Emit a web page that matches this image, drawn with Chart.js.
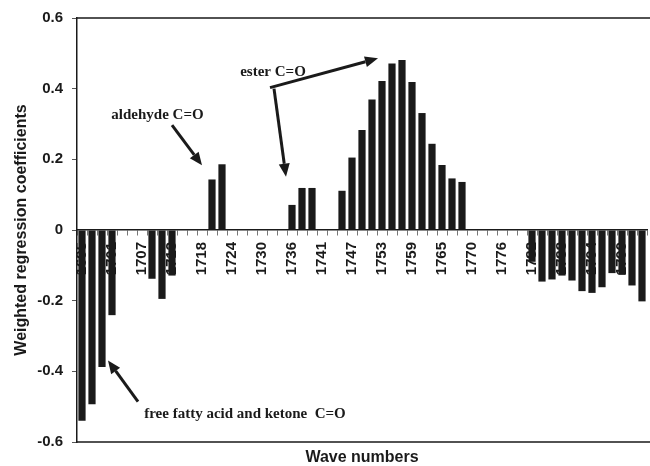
<!DOCTYPE html>
<html>
<head>
<meta charset="utf-8">
<title>Weighted regression coefficients</title>
<script src="https://cdn.jsdelivr.net/npm/chart.js@4.4.1/dist/chart.umd.min.js"></script>
<style>
  html, body { margin: 0; padding: 0; background: #fff; }
  #wrap { width: 650px; height: 466px; }
</style>
</head>
<body>
<div id="wrap"><canvas id="coef-chart" width="650" height="466"></canvas></div>
<script>
// wave numbers (cm-1), one per bar slot; only every third one is labelled
const waveNumbers = [
    1695, 1697, 1699, 1701, 1703, 1705, 1707, 1709, 1711, 1713,
    1714, 1716, 1718, 1720, 1722, 1724, 1726, 1728, 1730, 1732,
    1734, 1736, 1738, 1740, 1741, 1743, 1745, 1747, 1749, 1751,
    1753, 1755, 1757, 1759, 1761, 1763, 1765, 1767, 1768, 1770,
    1772, 1774, 1776, 1778, 1780, 1782, 1784, 1786, 1788, 1790,
    1792, 1794, 1795, 1797, 1799, 1801, 1803
];
const coefficients = [
    -0.540, -0.493, -0.388, -0.241, 0, 0, 0, -0.138, -0.195, -0.129,
    0, 0, 0, 0.143, 0.186, 0, 0, 0, 0, 0,
    0, 0.071, 0.119, 0.119, 0, 0, 0.111, 0.205, 0.283, 0.369,
    0.422, 0.471, 0.481, 0.419, 0.331, 0.244, 0.184, 0.146, 0.136, 0,
    0, 0, 0, 0, 0, -0.090, -0.146, -0.140, -0.129, -0.143,
    -0.173, -0.178, -0.162, -0.122, -0.127, -0.157, -0.202
];
const yTicks = [0.6, 0.4, 0.2, 0, -0.2, -0.4, -0.6];
const labelEvery = 3;

// annotations, in data units (bar index, coefficient)
const noteTexts = ['aldehyde C=O', 'ester C=O', 'free fatty acid and ketone  C=O'];
const noteAnchors = [[7.55, 0.326], [19.1, 0.446], [16.3, -0.52]];
const arrowStarts = [[9.0, 0.297], [18.8, 0.403], [19.2, 0.400], [5.6, -0.486]];
const arrowTips = [[12.0, 0.183], [29.6, 0.486], [20.4, 0.151], [2.6, -0.369]];

const sansFont = '"Liberation Sans", Arial, sans-serif';
const serifFont = '"Liberation Serif", "Times New Roman", serif';
const ink = '#1a1a1a';

function drawArrow(ctx, x0, y0, x1, y1) {
    const headLen = 13;
    const headHalf = 5.5;
    const ang = Math.atan2(y1 - y0, x1 - x0);
    const bx = x1 - headLen * Math.cos(ang);
    const by = y1 - headLen * Math.sin(ang);
    ctx.beginPath();
    ctx.moveTo(x0, y0);
    ctx.lineTo(bx, by);
    ctx.stroke();
    ctx.beginPath();
    ctx.moveTo(x1, y1);
    ctx.lineTo(bx + headHalf * Math.sin(ang), by - headHalf * Math.cos(ang));
    ctx.lineTo(bx - headHalf * Math.sin(ang), by + headHalf * Math.cos(ang));
    ctx.closePath();
    ctx.fill();
}

// no side padding from rotated labels, the bars run up to the right edge
function noSidePadding(scale) {
    scale.paddingLeft = 0;
    scale.paddingRight = 0;
}

const framePlugin = {
    id: 'frame',
    afterDraw(chart) {
        const {ctx, chartArea} = chart;
        ctx.save();
        ctx.strokeStyle = ink;
        ctx.lineWidth = 1.5;
        ctx.beginPath();
        ctx.moveTo(chartArea.left, chartArea.top);
        ctx.lineTo(chart.width, chartArea.top);
        ctx.moveTo(chartArea.left, chartArea.bottom);
        ctx.lineTo(chart.width, chartArea.bottom);
        ctx.stroke();
        ctx.restore();
    }
};

const notesPlugin = {
    id: 'notes',
    afterDraw(chart) {
        const {ctx} = chart;
        const xs = chart.scales.x;
        const ys = chart.scales.y;
        ctx.save();
        ctx.fillStyle = ink;
        ctx.strokeStyle = ink;
        ctx.lineWidth = 3;
        ctx.font = 'bold 15px ' + serifFont;
        ctx.textAlign = 'center';
        ctx.textBaseline = 'middle';
        for (let i = 0; i < noteTexts.length; i++) {
            ctx.fillText(noteTexts[i], xs.getPixelForValue(noteAnchors[i][0]), ys.getPixelForValue(noteAnchors[i][1]));
        }
        for (let i = 0; i < arrowStarts.length; i++) {
            drawArrow(ctx,
                xs.getPixelForValue(arrowStarts[i][0]), ys.getPixelForValue(arrowStarts[i][1]),
                xs.getPixelForValue(arrowTips[i][0]), ys.getPixelForValue(arrowTips[i][1]));
        }
        ctx.restore();
    }
};

const ctx = document.getElementById('coef-chart').getContext('2d');
const coefChart = new Chart(ctx, {
    type: 'bar',
    data: {
        labels: waveNumbers,
        datasets: [{
            data: coefficients,
            backgroundColor: ink,
            borderWidth: 0,
            barPercentage: 0.72,
            categoryPercentage: 1
        }]
    },
    options: {
        responsive: false,
        animation: false,
        devicePixelRatio: 1,
        layout: {
            padding: {top: 17, right: 3, bottom: 0, left: 0}
        },
        plugins: {
            legend: {display: false},
            tooltip: {enabled: false}
        },
        scales: {
            x: {
                type: 'category',
                position: {y: 0},
                grid: {
                    display: true,
                    drawOnChartArea: false,
                    tickLength: 5,
                    color: '#777',
                    offset: true
                },
                border: {display: true, color: ink, width: 1.5},
                ticks: {
                    autoSkip: false,
                    minRotation: 90,
                    maxRotation: 90,
                    padding: 7,
                    color: ink,
                    font: {family: sansFont, size: 15, weight: 'bold'},
                    callback: (value, index) => index % labelEvery === 0 ? String(waveNumbers[index]) : ''
                },
                afterFit: (scale) => { scale.height = 0; noSidePadding(scale); }
            },
            x2: {
                type: 'category',
                labels: waveNumbers,
                position: 'bottom',
                grid: {display: false},
                border: {display: false},
                ticks: {display: false},
                title: {
                    display: true,
                    text: 'Wave numbers',
                    color: ink,
                    padding: 0,
                    font: {family: sansFont, size: 16, weight: 'bold', lineHeight: 1}
                },
                afterFit: (scale) => { scale.height = 24; noSidePadding(scale); }
            },
            y: {
                min: -0.6,
                max: 0.6,
                afterBuildTicks: (scale) => { scale.ticks = yTicks.map(v => ({value: v})); },
                grid: {
                    display: true,
                    drawOnChartArea: false,
                    tickLength: 5,
                    color: '#555'
                },
                border: {display: true, color: ink, width: 1.5},
                ticks: {
                    padding: 9,
                    color: ink,
                    font: {family: sansFont, size: 15, weight: 'bold'},
                    callback: (v) => String(Math.round(v * 10) / 10)
                },
                title: {
                    display: true,
                    text: 'Weighted regression coefficients',
                    color: ink,
                    padding: {top: 14, bottom: 0},
                    font: {family: sansFont, size: 16, weight: 'bold', lineHeight: 1}
                },
                afterFit: (scale) => { scale.width = 77; }
            }
        }
    },
    plugins: [framePlugin, notesPlugin]
});
</script>
</body>
</html>
